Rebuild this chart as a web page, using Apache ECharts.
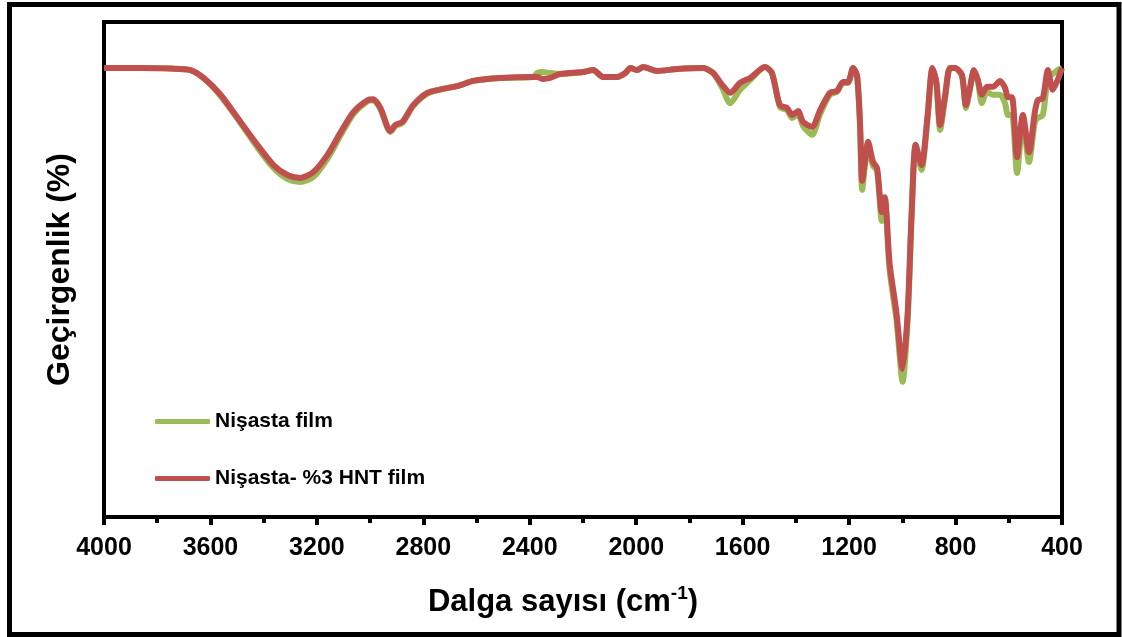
<!DOCTYPE html>
<html>
<head>
<meta charset="utf-8">
<script src="https://cdn.jsdelivr.net/npm/echarts@6/dist/echarts.min.js"></script>
<style>
  html, body { margin: 0; padding: 0; background: #fff; }
  #chart { width: 1122px; height: 637px; }
</style>
</head>
<body>
<div id="chart"></div>
<script>
// FTIR spectra: wavenumber (cm-1) against transmittance (%)
const wavenumbers = [4000,3863,3750,3675,3626,3562,3487,3424,3363,3311,3262,3213,3161,3112,3063,3010,2988,2961,2935,2924,2905,2879,2838,2785,2725,2669,2612,2511,2387,2372,2353,2323,2286,2199,2162,2124,2071,2041,2022,1996,1974,1921,1846,1749,1711,1677,1647,1610,1572,1516,1490,1460,1433,1414,1392,1373,1339,1309,1272,1245,1223,1204,1185,1170,1159,1151,1140,1129,1110,1095,1077,1066,1048,1022,999,980,965,950,928,905,887,872,858,839,821,802,776,761,746,731,716,701,682,659,633,614,603,588,569,547,524,502,491,472,453,435,416,400];

// Nişasta film
const nisastaFilm = [90.7,90.7,90.6,90.3,88.7,85.1,79.6,74.7,70.5,68.3,67.7,68.7,72.3,77.0,81.4,84.0,84.2,82.4,78.6,77.8,79.0,79.6,83.0,85.5,86.5,87.1,88.1,88.7,88.9,89.7,89.9,89.7,89.5,89.9,90.3,88.9,88.9,89.7,90.7,90.3,90.9,90.1,90.5,90.7,89.7,86.7,83.6,86.3,88.3,90.9,89.7,82.8,82.2,80.6,81.4,79.0,77.2,81.4,85.3,85.9,87.7,87.7,90.7,88.9,79.0,66.1,71.1,74.9,70.9,70.1,59.8,63.6,49.9,39.8,27.3,39.8,61.0,74.7,70.1,80.6,90.5,87.5,78.2,84.6,90.7,90.7,89.1,82.6,86.3,90.1,87.9,83.6,85.9,85.3,85.3,83.6,81.2,81.2,69.5,80.2,71.7,79.8,80.6,81.2,88.7,89.5,90.3,90.7];

// Nişasta- %3 HNT film
const nisastaHnt = [90.7,90.7,90.6,90.3,88.7,85.3,79.8,75.2,71.1,69.1,68.5,69.7,73.1,77.6,81.8,84.2,84.4,82.6,78.8,78.0,79.2,79.8,83.2,85.7,86.5,87.1,88.1,88.7,88.9,88.9,88.5,88.7,89.5,89.9,90.3,88.9,88.9,89.7,90.7,90.3,90.9,90.1,90.5,90.7,89.7,87.3,85.7,87.7,88.7,90.9,89.7,83.2,82.6,81.2,82.0,79.8,78.8,82.2,85.7,86.1,87.9,87.9,90.7,89.1,79.6,67.9,72.1,75.8,71.7,70.5,61.6,64.6,51.3,41.2,29.9,41.2,61.4,75.2,71.1,81.2,90.7,87.9,79.2,85.3,90.7,90.7,89.3,83.2,86.7,90.3,88.3,85.3,86.9,86.9,88.1,86.7,84.8,84.8,72.7,81.2,73.7,81.8,84.2,84.6,90.3,86.3,88.3,90.7];

const seriesNames = ['Nişasta film', 'Nişasta- %3 HNT film'];
const seriesColors = ['#9BBB59', '#C0504D'];

const pairs = (ys) => wavenumbers.map((x, i) => [x, ys[i]]);

const FONT = '"Liberation Sans", Arial, sans-serif';

const chart = echarts.init(document.getElementById('chart'), null, { renderer: 'canvas' });

chart.setOption({
  animation: false,
  backgroundColor: '#fff',
  grid: {
    left: 104, right: 60, top: 22, bottom: 120,
    show: true, borderColor: '#000', borderWidth: 4
  },
  legend: {
    orient: 'vertical',
    left: 155,
    top: 411,
    padding: 0,
    itemWidth: 55,
    itemHeight: 5,
    itemGap: 36,
    icon: 'roundRect',
    data: seriesNames,
    textStyle: { fontFamily: FONT, fontWeight: 'bold', fontSize: 21, color: '#000' }
  },
  xAxis: {
    type: 'value',
    min: 400, max: 4000, interval: 400,
    inverse: true,
    name: '{t|Dalga sayısı (cm}{s|-1}{t|)}',
    nameLocation: 'middle',
    nameGap: 67,
    nameTextStyle: {
      padding: [0, 40, 0, 0],
      rich: {
        t: { fontFamily: FONT, fontWeight: 'bold', fontSize: 31, color: '#000', lineHeight: 36 },
        s: { fontFamily: FONT, fontWeight: 'bold', fontSize: 19, color: '#000', verticalAlign: 'top', lineHeight: 36 }
      }
    },
    axisLine: { show: true, lineStyle: { color: '#000', width: 4 } },
    axisTick: { show: true, inside: false, length: 8, lineStyle: { color: '#000', width: 4 } },
    minorTick: { show: true, splitNumber: 2, length: 6, lineStyle: { color: '#000', width: 4 } },
    axisLabel: {
      margin: 19, fontFamily: FONT, fontWeight: 'bold', fontSize: 25, color: '#000',
      formatter: (v) => String(v)
    },
    splitLine: { show: false },
    minorSplitLine: { show: false }
  },
  yAxis: {
    type: 'value',
    min: 0, max: 100,
    name: 'Geçirgenlik (%)',
    nameLocation: 'middle',
    nameGap: 28,
    nameTextStyle: { fontFamily: FONT, fontWeight: 'bold', fontSize: 32, color: '#000' },
    axisLine: { show: true, lineStyle: { color: '#000', width: 4 } },
    axisTick: { show: false },
    axisLabel: { show: false },
    splitLine: { show: false }
  },
  series: [
    {
      name: seriesNames[0], type: 'line', data: pairs(nisastaFilm),
      showSymbol: false, smooth: 0.25, color: seriesColors[0],
      lineStyle: { width: 6, color: seriesColors[0] }
    },
    {
      name: seriesNames[1], type: 'line', data: pairs(nisastaHnt),
      showSymbol: false, smooth: 0.25, color: seriesColors[1],
      lineStyle: { width: 6, color: seriesColors[1] }
    }
  ],
  graphic: [{
    type: 'rect',
    shape: { x: 9.5, y: 4.5, width: 1109.5, height: 630 },
    style: { fill: 'none', stroke: '#000', lineWidth: 5 },
    silent: true
  }]
});
</script>
</body>
</html>
